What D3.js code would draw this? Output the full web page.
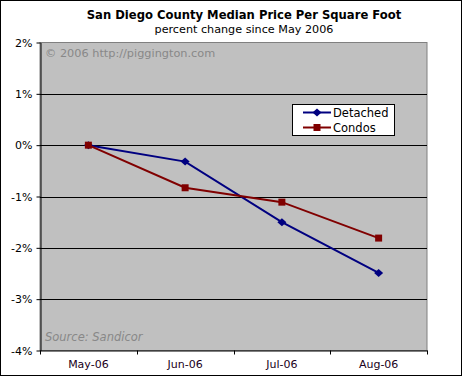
<!DOCTYPE html>
<html><head><meta charset="utf-8">
<script src="https://cdn.jsdelivr.net/npm/d3@7"></script>
<style>body{margin:0;background:#fff}svg{display:block}</style>
</head><body>
<script>
const categories = ["May-06","Jun-06","Jul-06","Aug-06"];
const detached = [0, -0.32, -1.50, -2.49];
const condos = [0, -0.83, -1.11, -1.81];
const yTicks = [2,1,0,-1,-2,-3,-4];
const seriesNames = ["Detached","Condos"];

const W=462,H=376;
const svg=d3.select("body").append("svg").attr("width",W).attr("height",H);
const font="Tahoma, 'DejaVu Sans', sans-serif";
svg.append("rect").attr("x",0.5).attr("y",0.5).attr("width",W-1).attr("height",H-1).attr("fill","#fff").attr("stroke","#000").attr("stroke-width",1);

const x=d3.scaleBand().domain(categories).range([40,427]);
const y=d3.scaleLinear().domain([-4,2]).range([350.5,42.5]);

svg.append("rect").attr("x",40).attr("y",y(2)).attr("width",387).attr("height",y(-4)-y(2)).attr("fill","#c0c0c0").attr("stroke","#808080");

// grid
svg.append("g").selectAll("line").data(yTicks.filter(d=>d<2&&d>-4)).join("line")
 .attr("x1",40).attr("x2",427).attr("y1",d=>Math.round(y(d))+0.5).attr("y2",d=>Math.round(y(d))+0.5).attr("stroke","#000");

// y axis
const ya=svg.append("g").attr("transform","translate(40.5,0)")
 .call(d3.axisLeft(y).tickValues(yTicks).tickFormat(d=>d+"%").tickSize(4).tickSizeOuter(0));
ya.select(".domain").attr("stroke","#000");
ya.selectAll("text").attr("font-family",font).attr("font-size",11).attr("fill","#000").attr("dx",-1);

// x axis
const xa=svg.append("g").attr("transform","translate(0,350.5)")
 .call(d3.axisBottom(x).tickSize(0).tickSizeOuter(0));
xa.select(".domain").attr("stroke","#000");
xa.selectAll("text").attr("font-family",font).attr("font-size",11).attr("fill","#200020").attr("dy","1.3em");
const bounds=[...categories.map(c=>x(c)),427];
xa.selectAll(".bt").data(bounds).join("line").attr("class","bt")
 .attr("x1",d=>Math.round(d)+0.5).attr("x2",d=>Math.round(d)+0.5).attr("y1",0).attr("y2",4).attr("stroke","#000");

// texts
svg.append("text").attr("x",244).attr("y",19).attr("text-anchor","middle").attr("font-family",font).attr("font-weight","bold").attr("font-size",11.6).text("San Diego County Median Price Per Square Foot");
svg.append("text").attr("x",244).attr("y",33).attr("text-anchor","middle").attr("font-family",font).attr("font-size",11.2).text("percent change since May 2006");
svg.append("text").attr("x",45).attr("y",57).attr("font-family",font).attr("font-size",11.3).attr("fill","#888").text("© 2006 http://piggington.com");
svg.append("text").attr("x",45).attr("y",341).attr("font-family",font).attr("font-size",11.5).attr("font-style","italic").attr("fill","#888").text("Source: Sandicor");

const cx=c=>x(c)+x.bandwidth()/2;
const line=d3.line().x((d,i)=>cx(categories[i])).y(d=>y(d));
const colors=["#000080","#800000"];
[detached,condos].forEach((s,k)=>{
  svg.append("path").datum(s).attr("d",line).attr("fill","none").attr("stroke",colors[k]).attr("stroke-width",2);
});
const diamond="M0,-4L4.5,0L0,4L-4.5,0Z";
svg.append("g").selectAll("path").data(detached).join("path")
 .attr("transform",(d,i)=>`translate(${cx(categories[i])},${y(d)})`).attr("d",diamond).attr("fill","#000080");
svg.append("g").selectAll("rect").data(condos).join("rect")
 .attr("x",(d,i)=>cx(categories[i])-3.5).attr("y",d=>y(d)-3.5).attr("width",7).attr("height",7).attr("fill","#800000");

// legend
const lg=svg.append("g");
lg.append("rect").attr("x",292.5).attr("y",104.5).attr("width",102).attr("height",31).attr("fill","#fff").attr("stroke","#000");
seriesNames.forEach((n,k)=>{
  const yy=112.5+k*15;
  lg.append("line").attr("x1",303).attr("x2",331).attr("y1",yy).attr("y2",yy).attr("stroke",colors[k]).attr("stroke-width",2);
  if(k===0) lg.append("path").attr("transform",`translate(317,${yy})`).attr("d",diamond).attr("fill",colors[k]);
  else lg.append("rect").attr("x",313.5).attr("y",yy-3.5).attr("width",7).attr("height",7).attr("fill",colors[k]);
  lg.append("text").attr("x",333).attr("y",yy+4).attr("font-family",font).attr("font-size",11.5).attr("fill","#000").text(n);
});
</script>
</body></html>
